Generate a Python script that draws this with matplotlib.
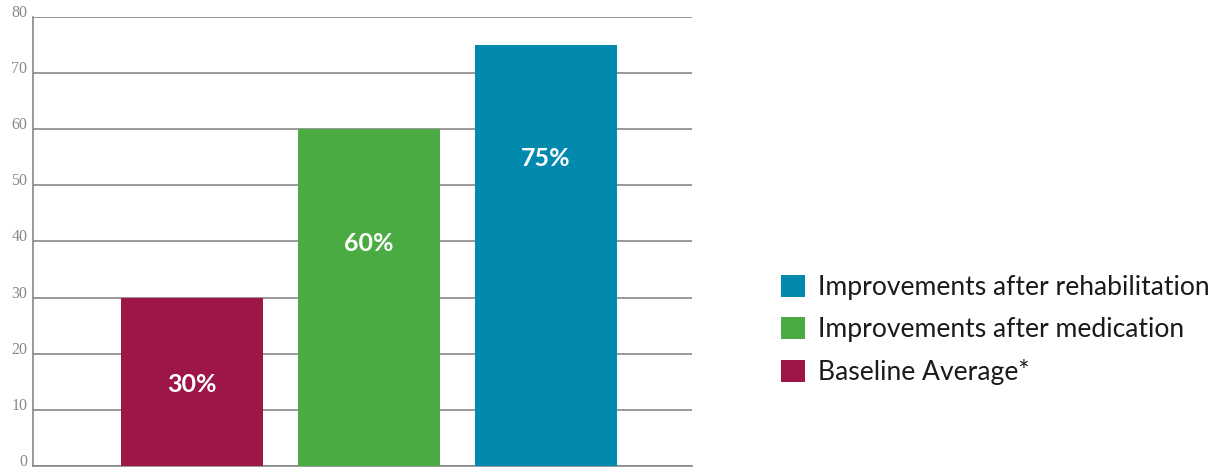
import matplotlib
matplotlib.use("Agg")
import matplotlib.pyplot as plt
from matplotlib.patches import Patch
from matplotlib.transforms import ScaledTranslation

categories = ["Baseline Average*", "Improvements after medication", "Improvements after rehabilitation"]
values = [30, 60, 75]
value_labels = ["30%", "60%", "75%"]
colors = ["#9E1547", "#4BAB43", "#0289AE"]
yticks = [0, 10, 20, 30, 40, 50, 60, 70, 80]

fig = plt.figure(figsize=(12.2, 4.68), dpi=100)
ax = fig.add_axes([33/1220, 2/468, (692-33)/1220, (466-17)/468])

x = list(range(len(values)))
bars = ax.bar(x, values, width=0.802, color=colors, zorder=3)
ax.set_xlim(-0.898, 2.825)
ax.set_ylim(0, 80)

label_frac = [0.484, 0.662, 0.731]
for xi, v, lab, f in zip(x, values, value_labels, label_frac):
    ax.text(xi, v * f, lab, ha="center", va="center", color="white",
            fontsize=18, fontweight="bold", family=["Lato", "DejaVu Sans"], zorder=4)

ax.set_yticks(yticks)
ax.set_yticklabels([str(t) for t in yticks], family=["Liberation Serif"], fontsize=11.5, color="#888888")
off = ScaledTranslation(0, -2.5/100, fig.dpi_scale_trans)
for lab in ax.get_yticklabels():
    lab.set_va("baseline")
    lab.set_transform(lab.get_transform() + off)
ax.tick_params(axis="y", length=0, pad=4)
ax.tick_params(axis="x", length=0, labelbottom=False)
ax.yaxis.grid(True, color="#888888", linewidth=1.2, zorder=1)
ax.set_axisbelow(True)
for s in ["top", "right"]:
    ax.spines[s].set_visible(False)
ax.spines["left"].set_color("#888888")
ax.spines["left"].set_linewidth(1.2)
ax.spines["bottom"].set_color("#888888")
ax.spines["bottom"].set_linewidth(1.2)

handles = [Patch(facecolor=colors[i], edgecolor="none", label=categories[i]) for i in [2, 1, 0]]
leg = fig.legend(handles=handles, loc="center left", bbox_to_anchor=(781/1220, 1 - 330/468),
                 frameon=False, handlelength=0.9, handleheight=0.9,
                 handletextpad=0.5, labelspacing=0.63, borderaxespad=0, borderpad=0,
                 prop={"family": ["Lato", "DejaVu Sans"], "size": 19.1})
for t in leg.get_texts():
    t.set_color("#1a1a1a")

fig.savefig("out.png", dpi=100)
